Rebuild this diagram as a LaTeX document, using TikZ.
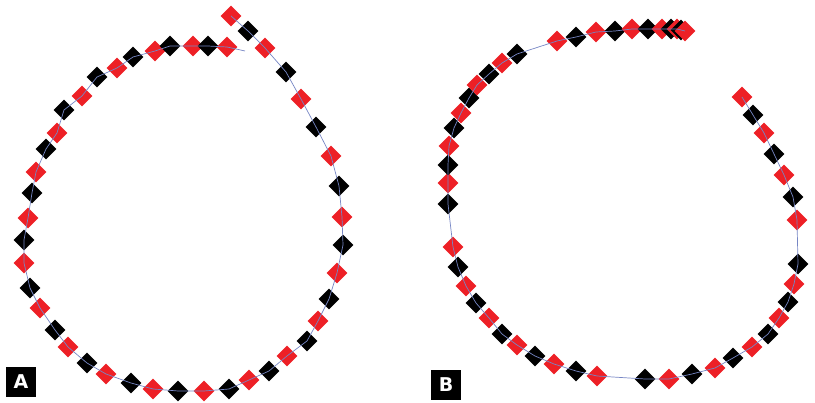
\documentclass[tikz,border=0pt]{standalone}
\usepackage{fontspec}
\setsansfont{DejaVu Sans}
\usepackage{xcolor}
\usepackage{tikz}
\usetikzlibrary{positioning, calc}

\definecolor{beadred}{RGB}{237,32,38}
\definecolor{threadblue}{RGB}{118,134,196}

\tikzset{
  bead/.style={rectangle, rotate=45, minimum size=14.6pt, inner sep=0pt},
  dr/.style={bead, fill=beadred},
  dk/.style={bead, fill=black},
  thread/.style={threadblue, line width=0.7pt},
  tag/.style={fill=black, text=white, minimum size=30pt, inner sep=0pt,
              font=\sffamily\bfseries\fontsize{19}{19}\selectfont}
}

\begin{document}
\begin{tikzpicture}[x=1pt, y=-1pt]
  \useasboundingbox (0,0) rectangle (815,403);

  % Panel A: nearly closed ring
  \foreach \x/\y/\c [count=\i] in {231/16/r, 248/31/k, 265/48/r, 286/72/k,
      301/99/r, 316/127/k, 331/156/r, 339/186/k, 342/217/r, 343/245/k,
      337/273/r, 329/299/k, 318/321/r, 307/341/k, 287/356/r, 269/371/k,
      249/380/r, 229/389/k, 204/391/r, 178/391/k, 153/389/r, 131/383/k,
      106/374/r, 87/363/k, 68/347/r, 55/330/k, 40/308/r, 30/288/k,
      24/263/r, 24/240/k, 28/218/r, 32/193/k, 36/172/r, 46/149/k,
      57/133/r, 64/110/k, 82/96/r, 97/77/k, 117/68/r, 133/57/k,
      155/51/r, 170/46/k, 193/46/r, 208/46/k, 227/47/r} {
    \node[d\c] (a\i) at (\x,\y) {};
  }
  \coordinate (aend) at (245,51);
  \draw[thread] (a1.center) \foreach \i in {2,...,45} { -- (a\i.center) } -- (aend);

  % Panel B: open spiral
  \foreach \x/\y/\c [count=\i] in {742/97/r, 753/115/k, 764/133/r, 774/154/k,
      784/175/r, 793/197/k, 797/220/r, 798/264/k, 794/284/r, 788/302/k,
      779/318/r, 768/334/k, 752/347/r, 733/358/k, 715/368/r, 692/374/k,
      669/379/r, 645/379/k, 597/376/r, 576/371/k, 554/364/r, 535/356/k,
      517/345/r, 502/334/k, 489/318/r, 476/303/k, 466/286/r, 458/267/k,
      453/247/r, 448/204/k, 448/183/r, 448/165/k, 449/146/r, 454/128/k,
      461/113/r, 469/98/k, 477/85/r, 489/74/k, 502/63/r, 517/54/k,
      557/41/r, 576/37/k, 596/32/r, 615/31/k, 632/29/r, 648/29/k,
      662/29/r, 671/29/k, 677/29/r, 681/30/k, 685/31/r} {
    \node[d\c] (b\i) at (\x,\y) {};
  }
  \draw[thread] (b1.center) \foreach \i in {2,...,51} { -- (b\i.center) };

  % panel tags
  \node[tag] (tagA) at (21,382) {A};
  \node[tag] (tagB) at (446,385) {B};
\end{tikzpicture}
\end{document}
